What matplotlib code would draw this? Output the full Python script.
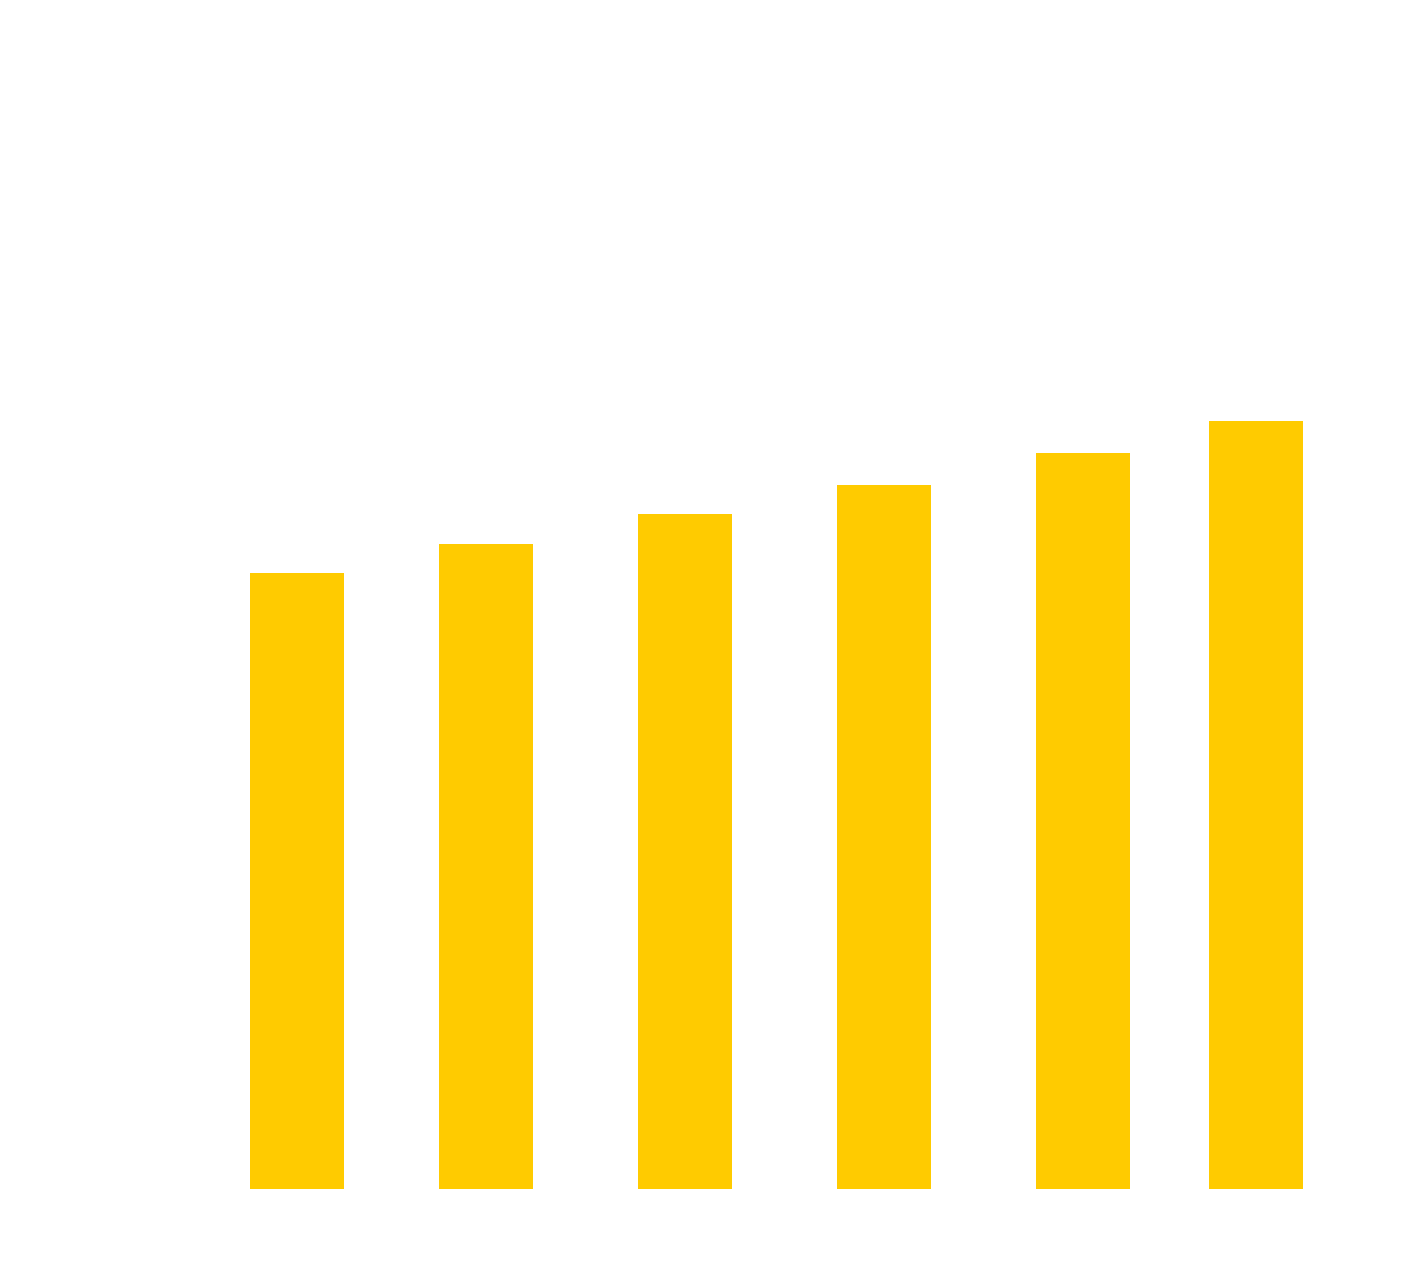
import matplotlib
matplotlib.use('Agg')
import matplotlib.pyplot as plt

# bar positions (uneven spacing) and heights
positions = [0, 0.95, 1.95, 2.95, 3.95, 4.82]
values = [61.6, 64.5, 67.5, 70.4, 73.6, 76.8]

fig = plt.figure(figsize=(14.17, 12.87), dpi=100)
ax = fig.add_axes([0, (1287 - 1189) / 1287, 1, 1089 / 1287])

ax.bar(positions, values, width=0.472, color='#ffcb00')

ax.set_xlim(-297 / 199, (1417 - 297) / 199)
ax.set_ylim(0, 108.9)
ax.axis('off')

fig.savefig('out.png', dpi=100, facecolor='white')
